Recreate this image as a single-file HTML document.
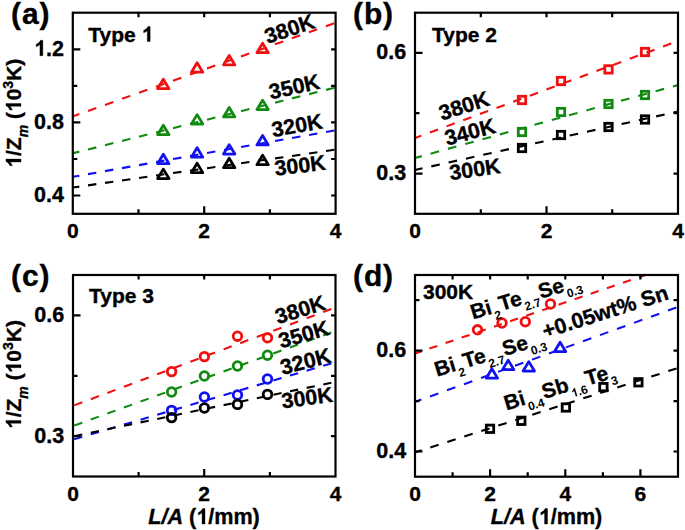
<!DOCTYPE html><html><head><meta charset="utf-8"><style>html,body{margin:0;padding:0;background:#fff;width:685px;height:530px;overflow:hidden}svg{display:block}.one{fill-opacity:0;stroke-opacity:0}</style></head><body><svg width="685" height="530" viewBox="0 0 685 530">
<rect width="685" height="530" fill="#fff"/>
<line x1="73" y1="116.3" x2="336" y2="22.6" stroke="#f01010" stroke-width="2.1" stroke-dasharray="8.84 9.20" stroke-dashoffset="2.1231401226475475"/>
<line x1="73" y1="153.2" x2="336" y2="87.4" stroke="#108a10" stroke-width="2.1" stroke-dasharray="8.59 8.94" stroke-dashoffset="2.0616450646777973"/>
<line x1="73" y1="176.8" x2="336" y2="130.2" stroke="#1010f0" stroke-width="2.1" stroke-dasharray="8.46 8.81" stroke-dashoffset="2.0311523715218467"/>
<line x1="73" y1="187.5" x2="336" y2="149.6" stroke="#000" stroke-width="2.1" stroke-dasharray="8.42 8.76" stroke-dashoffset="2.020659964399271"/>
<path d="M163.3,79.3 L169.0,88.7 L157.6,88.7Z" fill="none" stroke="#f01010" stroke-width="2.75" stroke-linejoin="round"/>
<path d="M197.1,62.8 L202.8,72.2 L191.4,72.2Z" fill="none" stroke="#f01010" stroke-width="2.75" stroke-linejoin="round"/>
<path d="M229.2,55.5 L234.9,64.9 L223.5,64.9Z" fill="none" stroke="#f01010" stroke-width="2.75" stroke-linejoin="round"/>
<path d="M262.6,43.3 L268.3,52.7 L256.9,52.7Z" fill="none" stroke="#f01010" stroke-width="2.75" stroke-linejoin="round"/>
<path d="M163.3,125.3 L169.0,134.7 L157.6,134.7Z" fill="none" stroke="#108a10" stroke-width="2.75" stroke-linejoin="round"/>
<path d="M197.1,114.6 L202.8,124.0 L191.4,124.0Z" fill="none" stroke="#108a10" stroke-width="2.75" stroke-linejoin="round"/>
<path d="M229.2,107.5 L234.9,116.9 L223.5,116.9Z" fill="none" stroke="#108a10" stroke-width="2.75" stroke-linejoin="round"/>
<path d="M262.6,100.1 L268.3,109.5 L256.9,109.5Z" fill="none" stroke="#108a10" stroke-width="2.75" stroke-linejoin="round"/>
<path d="M163.3,154.3 L169.0,163.7 L157.6,163.7Z" fill="none" stroke="#1010f0" stroke-width="2.75" stroke-linejoin="round"/>
<path d="M197.1,147.7 L202.8,157.1 L191.4,157.1Z" fill="none" stroke="#1010f0" stroke-width="2.75" stroke-linejoin="round"/>
<path d="M229.2,144.6 L234.9,154.0 L223.5,154.0Z" fill="none" stroke="#1010f0" stroke-width="2.75" stroke-linejoin="round"/>
<path d="M262.6,135.5 L268.3,144.9 L256.9,144.9Z" fill="none" stroke="#1010f0" stroke-width="2.75" stroke-linejoin="round"/>
<path d="M163.3,169.1 L169.0,178.5 L157.6,178.5Z" fill="none" stroke="#000" stroke-width="2.75" stroke-linejoin="round"/>
<path d="M197.1,163.3 L202.8,172.7 L191.4,172.7Z" fill="none" stroke="#000" stroke-width="2.75" stroke-linejoin="round"/>
<path d="M229.2,158.3 L234.9,167.7 L223.5,167.7Z" fill="none" stroke="#000" stroke-width="2.75" stroke-linejoin="round"/>
<path d="M262.6,155.3 L268.3,164.7 L256.9,164.7Z" fill="none" stroke="#000" stroke-width="2.75" stroke-linejoin="round"/>
<rect x="72.8" y="12.7" width="262.8" height="201.1" fill="none" stroke="#000" stroke-width="2.2"/>
<path d="M204.2,213.8v-7.5 M204.2,12.7v4.5 M138.5,213.8v-4.5 M138.5,12.7v4.5 M269.9,213.8v-4.5 M269.9,12.7v4.5 M72.8,195.5h7.5 M335.6,195.5h-4.5 M72.8,122.4h7.5 M335.6,122.4h-4.5 M72.8,49.3h7.5 M335.6,49.3h-4.5 M72.8,159.0h4.5 M335.6,159.0h-4.5 M72.8,85.8h4.5 M335.6,85.8h-4.5 " stroke="#000" stroke-width="2.2" fill="none"/>
<text x="72.8" y="237.8" text-anchor="middle" font-family="&quot;Liberation Sans&quot;, sans-serif" font-weight="bold" stroke="#000" stroke-width="0.35" font-size="21">0</text>
<text x="204.2" y="237.8" text-anchor="middle" font-family="&quot;Liberation Sans&quot;, sans-serif" font-weight="bold" stroke="#000" stroke-width="0.35" font-size="21">2</text>
<text x="335.6" y="237.8" text-anchor="middle" font-family="&quot;Liberation Sans&quot;, sans-serif" font-weight="bold" stroke="#000" stroke-width="0.35" font-size="21">4</text>
<text x="64.0" y="201.9" text-anchor="end" font-family="&quot;Liberation Sans&quot;, sans-serif" font-weight="bold" stroke="#000" stroke-width="0.35" font-size="21.5">0.4</text>
<text x="64.0" y="128.8" text-anchor="end" font-family="&quot;Liberation Sans&quot;, sans-serif" font-weight="bold" stroke="#000" stroke-width="0.35" font-size="21.5">0.8</text>
<text x="64.0" y="55.7" text-anchor="end" font-family="&quot;Liberation Sans&quot;, sans-serif" font-weight="bold" stroke="#000" stroke-width="0.35" font-size="21.5"><tspan class="one">1</tspan>.2</text>
<text x="88.3" y="41.5" font-family="&quot;Liberation Sans&quot;, sans-serif" font-weight="bold" stroke="#000" stroke-width="0.35" font-size="21">Type <tspan class="one">1</tspan></text>
<text x="267.5" y="44" transform="rotate(-18.5 267.5 44)" font-family="&quot;Liberation Sans&quot;, sans-serif" font-weight="bold" stroke="#000" stroke-width="0.35" font-size="21.5" fill="#000" >380K</text>
<text x="270.8" y="99.5" transform="rotate(-12.5 270.8 99.5)" font-family="&quot;Liberation Sans&quot;, sans-serif" font-weight="bold" stroke="#000" stroke-width="0.35" font-size="21.5" fill="#000" >350K</text>
<text x="273" y="137.2" transform="rotate(-10 273 137.2)" font-family="&quot;Liberation Sans&quot;, sans-serif" font-weight="bold" stroke="#000" stroke-width="0.35" font-size="21.5" fill="#000" >320K</text>
<text x="275.4" y="175.8" transform="rotate(-7 275.4 175.8)" font-family="&quot;Liberation Sans&quot;, sans-serif" font-weight="bold" stroke="#000" stroke-width="0.35" font-size="21.5" fill="#000" >300K</text>
<line x1="415" y1="138" x2="678" y2="41" stroke="#f01010" stroke-width="2.1" stroke-dasharray="8.70 9.05" stroke-dashoffset="1.8652316906056026"/>
<line x1="415" y1="158" x2="678" y2="85" stroke="#108a10" stroke-width="2.1" stroke-dasharray="8.80 9.16" stroke-dashoffset="1.7642717483445343"/>
<line x1="415" y1="170" x2="678" y2="111.5" stroke="#000" stroke-width="2.1" stroke-dasharray="8.68 9.04" stroke-dashoffset="1.024439673266026"/>
<rect x="518.30" y="96.30" width="7.4" height="7.4" fill="none" stroke="#f01010" stroke-width="2.8"/>
<rect x="557.30" y="77.30" width="7.4" height="7.4" fill="none" stroke="#f01010" stroke-width="2.8"/>
<rect x="604.80" y="65.70" width="7.4" height="7.4" fill="none" stroke="#f01010" stroke-width="2.8"/>
<rect x="641.30" y="48.30" width="7.4" height="7.4" fill="none" stroke="#f01010" stroke-width="2.8"/>
<rect x="518.30" y="128.30" width="7.4" height="7.4" fill="none" stroke="#108a10" stroke-width="2.8"/>
<rect x="557.30" y="108.30" width="7.4" height="7.4" fill="none" stroke="#108a10" stroke-width="2.8"/>
<rect x="604.80" y="100.30" width="7.4" height="7.4" fill="none" stroke="#108a10" stroke-width="2.8"/>
<rect x="641.30" y="91.30" width="7.4" height="7.4" fill="none" stroke="#108a10" stroke-width="2.8"/>
<rect x="518.30" y="144.30" width="7.4" height="7.4" fill="none" stroke="#000" stroke-width="2.8"/>
<rect x="557.30" y="131.30" width="7.4" height="7.4" fill="none" stroke="#000" stroke-width="2.8"/>
<rect x="604.80" y="123.30" width="7.4" height="7.4" fill="none" stroke="#000" stroke-width="2.8"/>
<rect x="641.30" y="115.80" width="7.4" height="7.4" fill="none" stroke="#000" stroke-width="2.8"/>
<rect x="415.0" y="12.7" width="263.0" height="201.1" fill="none" stroke="#000" stroke-width="2.2"/>
<path d="M546.5,213.8v-7.5 M546.5,12.7v4.5 M480.8,213.8v-4.5 M480.8,12.7v4.5 M612.2,213.8v-4.5 M612.2,12.7v4.5 M415.0,173.6h7.5 M678.0,173.6h-4.5 M415.0,52.9h7.5 M678.0,52.9h-4.5 M415.0,113.2h4.5 M678.0,113.2h-4.5 " stroke="#000" stroke-width="2.2" fill="none"/>
<text x="415.0" y="237.8" text-anchor="middle" font-family="&quot;Liberation Sans&quot;, sans-serif" font-weight="bold" stroke="#000" stroke-width="0.35" font-size="21">0</text>
<text x="546.5" y="237.8" text-anchor="middle" font-family="&quot;Liberation Sans&quot;, sans-serif" font-weight="bold" stroke="#000" stroke-width="0.35" font-size="21">2</text>
<text x="678.0" y="237.8" text-anchor="middle" font-family="&quot;Liberation Sans&quot;, sans-serif" font-weight="bold" stroke="#000" stroke-width="0.35" font-size="21">4</text>
<text x="406.2" y="180.0" text-anchor="end" font-family="&quot;Liberation Sans&quot;, sans-serif" font-weight="bold" stroke="#000" stroke-width="0.35" font-size="21.5">0.3</text>
<text x="406.2" y="59.3" text-anchor="end" font-family="&quot;Liberation Sans&quot;, sans-serif" font-weight="bold" stroke="#000" stroke-width="0.35" font-size="21.5">0.6</text>
<text x="432" y="42" font-family="&quot;Liberation Sans&quot;, sans-serif" font-weight="bold" stroke="#000" stroke-width="0.35" font-size="21">Type 2</text>
<text x="441.8" y="120.8" transform="rotate(-18 441.8 120.8)" font-family="&quot;Liberation Sans&quot;, sans-serif" font-weight="bold" stroke="#000" stroke-width="0.35" font-size="21.5" fill="#000" >380K</text>
<text x="447" y="145.8" transform="rotate(-15 447 145.8)" font-family="&quot;Liberation Sans&quot;, sans-serif" font-weight="bold" stroke="#000" stroke-width="0.35" font-size="21.5" fill="#000" >340K</text>
<text x="450.5" y="180.2" transform="rotate(-8 450.5 180.2)" font-family="&quot;Liberation Sans&quot;, sans-serif" font-weight="bold" stroke="#000" stroke-width="0.35" font-size="21.5" fill="#000" >300K</text>
<line x1="73" y1="405.8" x2="335" y2="307.6" stroke="#f01010" stroke-width="2.1" stroke-dasharray="8.69 9.04" stroke-dashoffset="-1.2281234960471332"/>
<line x1="73" y1="426" x2="335" y2="331.2" stroke="#108a10" stroke-width="2.1" stroke-dasharray="8.65 9.00" stroke-dashoffset="-1.2229656280745507"/>
<line x1="73" y1="439.6" x2="335" y2="362.3" stroke="#1010f0" stroke-width="2.1" stroke-dasharray="8.48 8.83" stroke-dashoffset="-1.1990080674937749"/>
<line x1="73" y1="436.4" x2="335" y2="382" stroke="#000" stroke-width="2.1" stroke-dasharray="8.31 8.65" stroke-dashoffset="-1.174527663451387"/>
<circle cx="171.6" cy="371.6" r="4.3" fill="none" stroke="#f01010" stroke-width="2.8"/>
<circle cx="204.4" cy="356.6" r="4.3" fill="none" stroke="#f01010" stroke-width="2.8"/>
<circle cx="237.5" cy="336.2" r="4.3" fill="none" stroke="#f01010" stroke-width="2.8"/>
<circle cx="267.5" cy="337.8" r="4.3" fill="none" stroke="#f01010" stroke-width="2.8"/>
<circle cx="171.6" cy="392.0" r="4.3" fill="none" stroke="#108a10" stroke-width="2.8"/>
<circle cx="204.4" cy="376.0" r="4.3" fill="none" stroke="#108a10" stroke-width="2.8"/>
<circle cx="237.5" cy="366.0" r="4.3" fill="none" stroke="#108a10" stroke-width="2.8"/>
<circle cx="267.5" cy="355.2" r="4.3" fill="none" stroke="#108a10" stroke-width="2.8"/>
<circle cx="171.6" cy="410.4" r="4.3" fill="none" stroke="#1010f0" stroke-width="2.8"/>
<circle cx="204.4" cy="397.0" r="4.3" fill="none" stroke="#1010f0" stroke-width="2.8"/>
<circle cx="237.5" cy="395.0" r="4.3" fill="none" stroke="#1010f0" stroke-width="2.8"/>
<circle cx="267.5" cy="379.0" r="4.3" fill="none" stroke="#1010f0" stroke-width="2.8"/>
<circle cx="171.6" cy="417.6" r="4.3" fill="none" stroke="#000" stroke-width="2.8"/>
<circle cx="204.4" cy="408.0" r="4.3" fill="none" stroke="#000" stroke-width="2.8"/>
<circle cx="237.5" cy="404.4" r="4.3" fill="none" stroke="#000" stroke-width="2.8"/>
<circle cx="267.5" cy="394.4" r="4.3" fill="none" stroke="#000" stroke-width="2.8"/>
<rect x="73.0" y="275.0" width="262.5" height="201.5" fill="none" stroke="#000" stroke-width="2.2"/>
<path d="M204.2,476.5v-7.5 M204.2,275.0v4.5 M138.6,476.5v-4.5 M138.6,275.0v4.5 M269.9,476.5v-4.5 M269.9,275.0v4.5 M73.0,436.2h7.5 M335.5,436.2h-4.5 M73.0,315.3h7.5 M335.5,315.3h-4.5 M73.0,375.8h4.5 M335.5,375.8h-4.5 " stroke="#000" stroke-width="2.2" fill="none"/>
<text x="73.0" y="500.5" text-anchor="middle" font-family="&quot;Liberation Sans&quot;, sans-serif" font-weight="bold" stroke="#000" stroke-width="0.35" font-size="21">0</text>
<text x="204.2" y="500.5" text-anchor="middle" font-family="&quot;Liberation Sans&quot;, sans-serif" font-weight="bold" stroke="#000" stroke-width="0.35" font-size="21">2</text>
<text x="335.5" y="500.5" text-anchor="middle" font-family="&quot;Liberation Sans&quot;, sans-serif" font-weight="bold" stroke="#000" stroke-width="0.35" font-size="21">4</text>
<text x="64.2" y="442.6" text-anchor="end" font-family="&quot;Liberation Sans&quot;, sans-serif" font-weight="bold" stroke="#000" stroke-width="0.35" font-size="21.5">0.3</text>
<text x="64.2" y="321.7" text-anchor="end" font-family="&quot;Liberation Sans&quot;, sans-serif" font-weight="bold" stroke="#000" stroke-width="0.35" font-size="21.5">0.6</text>
<text x="89" y="303" font-family="&quot;Liberation Sans&quot;, sans-serif" font-weight="bold" stroke="#000" stroke-width="0.35" font-size="21">Type 3</text>
<text x="277.8" y="324.3" transform="rotate(-17 277.8 324.3)" font-family="&quot;Liberation Sans&quot;, sans-serif" font-weight="bold" stroke="#000" stroke-width="0.35" font-size="21.5" fill="#000" >380K</text>
<text x="281" y="348.6" transform="rotate(-16 281 348.6)" font-family="&quot;Liberation Sans&quot;, sans-serif" font-weight="bold" stroke="#000" stroke-width="0.35" font-size="21.5" fill="#000" >350K</text>
<text x="282.5" y="375" transform="rotate(-14.6 282.5 375)" font-family="&quot;Liberation Sans&quot;, sans-serif" font-weight="bold" stroke="#000" stroke-width="0.35" font-size="21.5" fill="#000" >320K</text>
<text x="282.6" y="408.5" transform="rotate(-7.7 282.6 408.5)" font-family="&quot;Liberation Sans&quot;, sans-serif" font-weight="bold" stroke="#000" stroke-width="0.35" font-size="21.5" fill="#000" >300K</text>
<line x1="415" y1="353.5" x2="645.6" y2="275" stroke="#f01010" stroke-width="2.1" stroke-dasharray="8.35 8.69" stroke-dashoffset="1.827492000412192"/>
<line x1="415" y1="401.8" x2="678" y2="307" stroke="#1010f0" stroke-width="2.1" stroke-dasharray="8.85 9.22" stroke-dashoffset="2.1259621118881813"/>
<line x1="415" y1="452.3" x2="678" y2="368" stroke="#000" stroke-width="2.1" stroke-dasharray="8.75 9.10" stroke-dashoffset="1.7851950584932"/>
<circle cx="477.5" cy="329.8" r="4.3" fill="none" stroke="#f01010" stroke-width="2.8"/>
<circle cx="502.0" cy="323.0" r="4.3" fill="none" stroke="#f01010" stroke-width="2.8"/>
<circle cx="525.3" cy="321.7" r="4.3" fill="none" stroke="#f01010" stroke-width="2.8"/>
<circle cx="550.5" cy="304.0" r="4.3" fill="none" stroke="#f01010" stroke-width="2.8"/>
<path d="M491.9,368.7 L497.6,378.1 L486.2,378.1Z" fill="none" stroke="#1010f0" stroke-width="2.75" stroke-linejoin="round"/>
<path d="M508.2,360.2 L513.9,369.6 L502.5,369.6Z" fill="none" stroke="#1010f0" stroke-width="2.75" stroke-linejoin="round"/>
<path d="M528.8,361.6 L534.5,371.0 L523.1,371.0Z" fill="none" stroke="#1010f0" stroke-width="2.75" stroke-linejoin="round"/>
<path d="M560.1,342.3 L565.8,351.7 L554.4,351.7Z" fill="none" stroke="#1010f0" stroke-width="2.75" stroke-linejoin="round"/>
<rect x="486.30" y="425.10" width="7.4" height="7.4" fill="none" stroke="#000" stroke-width="2.8"/>
<rect x="517.60" y="417.10" width="7.4" height="7.4" fill="none" stroke="#000" stroke-width="2.8"/>
<rect x="562.20" y="403.80" width="7.4" height="7.4" fill="none" stroke="#000" stroke-width="2.8"/>
<rect x="599.70" y="383.40" width="7.4" height="7.4" fill="none" stroke="#000" stroke-width="2.8"/>
<rect x="634.70" y="378.60" width="7.4" height="7.4" fill="none" stroke="#000" stroke-width="2.8"/>
<rect x="415.0" y="275.0" width="263.0" height="201.7" fill="none" stroke="#000" stroke-width="2.2"/>
<path d="M490.1,476.7v-7.5 M490.1,275.0v4.5 M565.3,476.7v-7.5 M565.3,275.0v4.5 M640.4,476.7v-7.5 M640.4,275.0v4.5 M452.6,476.7v-4.5 M452.6,275.0v4.5 M527.7,476.7v-4.5 M527.7,275.0v4.5 M602.9,476.7v-4.5 M602.9,275.0v4.5 M415.0,451.5h7.5 M678.0,451.5h-4.5 M415.0,350.6h7.5 M678.0,350.6h-4.5 M415.0,401.1h4.5 M678.0,401.1h-4.5 M415.0,300.2h4.5 M678.0,300.2h-4.5 " stroke="#000" stroke-width="2.2" fill="none"/>
<text x="415.0" y="500.7" text-anchor="middle" font-family="&quot;Liberation Sans&quot;, sans-serif" font-weight="bold" stroke="#000" stroke-width="0.35" font-size="21">0</text>
<text x="490.1" y="500.7" text-anchor="middle" font-family="&quot;Liberation Sans&quot;, sans-serif" font-weight="bold" stroke="#000" stroke-width="0.35" font-size="21">2</text>
<text x="565.3" y="500.7" text-anchor="middle" font-family="&quot;Liberation Sans&quot;, sans-serif" font-weight="bold" stroke="#000" stroke-width="0.35" font-size="21">4</text>
<text x="640.4" y="500.7" text-anchor="middle" font-family="&quot;Liberation Sans&quot;, sans-serif" font-weight="bold" stroke="#000" stroke-width="0.35" font-size="21">6</text>
<text x="406.2" y="457.9" text-anchor="end" font-family="&quot;Liberation Sans&quot;, sans-serif" font-weight="bold" stroke="#000" stroke-width="0.35" font-size="21.5">0.4</text>
<text x="406.2" y="357.0" text-anchor="end" font-family="&quot;Liberation Sans&quot;, sans-serif" font-weight="bold" stroke="#000" stroke-width="0.35" font-size="21.5">0.6</text>
<text x="423" y="298.5" font-family="&quot;Liberation Sans&quot;, sans-serif" font-weight="bold" stroke="#000" stroke-width="0.35" font-size="21">300K</text>
<text x="473" y="319.6" transform="rotate(-17 473 319.6)" font-family="&quot;Liberation Sans&quot;, sans-serif" font-weight="bold" stroke="#000" stroke-width="0.35" font-size="21" fill="#000" >Bi<tspan font-size="12" stroke-width="0" dx="0.8" dy="7">2</tspan><tspan dx="1" dy="-7">Te</tspan><tspan font-size="12" stroke-width="0" dx="0.8" dy="7">2.7</tspan><tspan dx="1" dy="-7">Se</tspan><tspan font-size="12" stroke-width="0" dx="0.8" dy="7">0.3</tspan></text>
<text x="437" y="376.8" transform="rotate(-17 437 376.8)" font-family="&quot;Liberation Sans&quot;, sans-serif" font-weight="bold" stroke="#000" stroke-width="0.35" font-size="21" fill="#000" >Bi<tspan font-size="12" stroke-width="0" dx="0.8" dy="7">2</tspan><tspan dx="1" dy="-7">Te</tspan><tspan font-size="12" stroke-width="0" dx="0.8" dy="7">2.7</tspan><tspan dx="1" dy="-7">Se</tspan><tspan font-size="12" stroke-width="0" dx="0.8" dy="7">0.3</tspan></text>
<text x="545" y="338.5" transform="rotate(-17.6 545 338.5)" font-family="&quot;Liberation Sans&quot;, sans-serif" font-weight="bold" stroke="#000" stroke-width="0.35" font-size="21.5" fill="#000" >+0.05wt% Sn</text>
<text x="506.5" y="410.5" transform="rotate(-17 506.5 410.5)" font-family="&quot;Liberation Sans&quot;, sans-serif" font-weight="bold" stroke="#000" stroke-width="0.35" font-size="21" fill="#000" >Bi<tspan font-size="12" stroke-width="0" dx="0.8" dy="7">0.4</tspan><tspan dx="1" dy="-7">Sb</tspan><tspan font-size="12" stroke-width="0" dx="0.8" dy="7"><tspan class="one">1</tspan>.6</tspan><tspan dx="1" dy="-7">Te</tspan><tspan font-size="12" stroke-width="0" dx="0.8" dy="7">3</tspan></text>
<text x="11" y="24" font-family="&quot;Liberation Sans&quot;, sans-serif" font-weight="bold" stroke="#000" stroke-width="0.35" font-size="30" letter-spacing="0.9">(a)</text>
<text x="353" y="24" font-family="&quot;Liberation Sans&quot;, sans-serif" font-weight="bold" stroke="#000" stroke-width="0.35" font-size="30" letter-spacing="0.9">(b)</text>
<text x="11" y="286" font-family="&quot;Liberation Sans&quot;, sans-serif" font-weight="bold" stroke="#000" stroke-width="0.35" font-size="30" letter-spacing="0.9">(c)</text>
<text x="353" y="286" font-family="&quot;Liberation Sans&quot;, sans-serif" font-weight="bold" stroke="#000" stroke-width="0.35" font-size="30" letter-spacing="0.9">(d)</text>
<text transform="translate(21 113.2) rotate(-90)" text-anchor="middle" font-family="&quot;Liberation Sans&quot;, sans-serif" font-weight="bold" stroke="#000" stroke-width="0.35" font-size="21"><tspan class="one">1</tspan>/Z<tspan font-style="italic" font-size="14" dy="7">m</tspan><tspan dy="-7"> (<tspan class="one">1</tspan>0</tspan><tspan font-size="14" dy="-8">3</tspan><tspan dy="8">K)</tspan></text>
<text transform="translate(21 374.5) rotate(-90)" text-anchor="middle" font-family="&quot;Liberation Sans&quot;, sans-serif" font-weight="bold" stroke="#000" stroke-width="0.35" font-size="21"><tspan class="one">1</tspan>/Z<tspan font-style="italic" font-size="14" dy="7">m</tspan><tspan dy="-7"> (<tspan class="one">1</tspan>0</tspan><tspan font-size="14" dy="-8">3</tspan><tspan dy="8">K)</tspan></text>
<text x="204" y="524" text-anchor="middle" font-family="&quot;Liberation Sans&quot;, sans-serif" font-weight="bold" stroke="#000" stroke-width="0.35" font-size="21.6"><tspan font-style="italic">L/A</tspan> (<tspan class="one">1</tspan>/mm)</text>
<text x="546.5" y="524" text-anchor="middle" font-family="&quot;Liberation Sans&quot;, sans-serif" font-weight="bold" stroke="#000" stroke-width="0.35" font-size="21.6"><tspan font-style="italic">L/A</tspan> (<tspan class="one">1</tspan>/mm)</text>
<path transform="translate(34.094 55.700) scale(0.010498 -0.010498)" d="M836,0 L555,0 L555,1057 C455,963 337,893 201,847 L201,1096 C273,1120 351,1165 435,1230 C519,1296 577,1375 608,1466 L836,1466 Z" fill="#000" stroke="#000" stroke-width="33.3"/>
<path transform="translate(141.597 41.500) scale(0.010254 -0.010254)" d="M836,0 L555,0 L555,1057 C455,963 337,893 201,847 L201,1096 C273,1120 351,1165 435,1230 C519,1296 577,1375 608,1466 L836,1466 Z" fill="#000" stroke="#000" stroke-width="34.1"/>
<g transform="rotate(-17 506.5 410.5)"><path transform="translate(573.631 417.500) scale(0.005859 -0.005859)" d="M836,0 L555,0 L555,1057 C455,963 337,893 201,847 L201,1096 C273,1120 351,1165 435,1230 C519,1296 577,1375 608,1466 L836,1466 Z" fill="#000" stroke="#000" stroke-width="0.0"/></g>
<g transform="translate(21 113.2) rotate(-90)"><path transform="translate(-54.492 0.000) scale(0.010254 -0.010254)" d="M836,0 L555,0 L555,1057 C455,963 337,893 201,847 L201,1096 C273,1120 351,1165 435,1230 C519,1296 577,1375 608,1466 L836,1466 Z" fill="#000" stroke="#000" stroke-width="34.1"/></g>
<g transform="translate(21 113.2) rotate(-90)"><path transform="translate(1.148 0.000) scale(0.010254 -0.010254)" d="M836,0 L555,0 L555,1057 C455,963 337,893 201,847 L201,1096 C273,1120 351,1165 435,1230 C519,1296 577,1375 608,1466 L836,1466 Z" fill="#000" stroke="#000" stroke-width="34.1"/></g>
<g transform="translate(21 374.5) rotate(-90)"><path transform="translate(-54.492 0.000) scale(0.010254 -0.010254)" d="M836,0 L555,0 L555,1057 C455,963 337,893 201,847 L201,1096 C273,1120 351,1165 435,1230 C519,1296 577,1375 608,1466 L836,1466 Z" fill="#000" stroke="#000" stroke-width="34.1"/></g>
<g transform="translate(21 374.5) rotate(-90)"><path transform="translate(1.148 0.000) scale(0.010254 -0.010254)" d="M836,0 L555,0 L555,1057 C455,963 337,893 201,847 L201,1096 C273,1120 351,1165 435,1230 C519,1296 577,1375 608,1466 L836,1466 Z" fill="#000" stroke="#000" stroke-width="34.1"/></g>
<path transform="translate(196.195 524.000) scale(0.010547 -0.010547)" d="M836,0 L555,0 L555,1057 C455,963 337,893 201,847 L201,1096 C273,1120 351,1165 435,1230 C519,1296 577,1375 608,1466 L836,1466 Z" fill="#000" stroke="#000" stroke-width="33.2"/>
<path transform="translate(538.695 524.000) scale(0.010547 -0.010547)" d="M836,0 L555,0 L555,1057 C455,963 337,893 201,847 L201,1096 C273,1120 351,1165 435,1230 C519,1296 577,1375 608,1466 L836,1466 Z" fill="#000" stroke="#000" stroke-width="33.2"/>
</svg></body></html>
